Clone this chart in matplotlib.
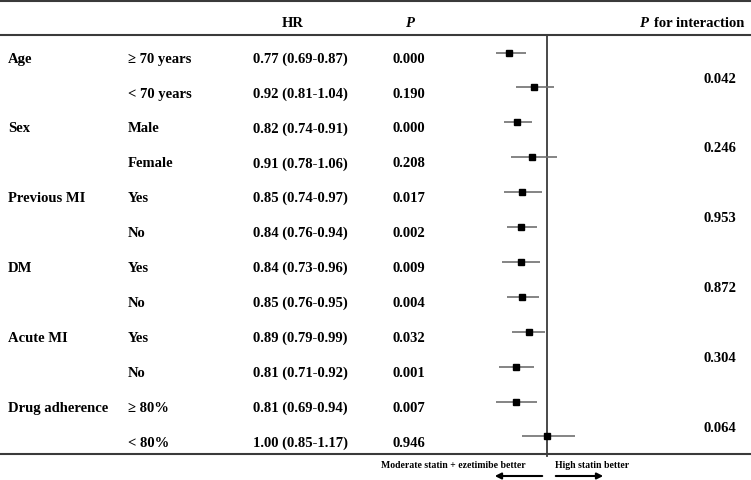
import matplotlib
matplotlib.use("Agg")
import matplotlib.pyplot as plt

groups = ["Age", "", "Sex", "", "Previous MI", "", "DM", "", "Acute MI", "", "Drug adherence", ""]
subgroups = ["\u2265 70 years", "< 70 years", "Male", "Female", "Yes", "No", "Yes", "No",
             "Yes", "No", "\u2265 80%", "< 80%"]
hr = [0.77, 0.92, 0.82, 0.91, 0.85, 0.84, 0.84, 0.85, 0.89, 0.81, 0.81, 1.00]
lo = [0.69, 0.81, 0.74, 0.78, 0.74, 0.76, 0.73, 0.76, 0.79, 0.71, 0.69, 0.85]
hi = [0.87, 1.04, 0.91, 1.06, 0.97, 0.94, 0.96, 0.95, 0.99, 0.92, 0.94, 1.17]
pvals = ["0.000", "0.190", "0.000", "0.208", "0.017", "0.002", "0.009", "0.004",
         "0.032", "0.001", "0.007", "0.946"]
p_inter = ["0.042", "0.246", "0.953", "0.872", "0.304", "0.064"]

W, H = 751, 481
plt.rcParams['font.family'] = ['Liberation Serif', 'DejaVu Serif']
fig = plt.figure(figsize=(W / 100, H / 100), dpi=100)
ax = fig.add_axes([0, 0, 1, 1])
ax.set_xlim(0, W)
ax.set_ylim(H, 0)
ax.axis('off')

fs = 10.5
line_c = '#3a3a3a'
# horizontal rules
for yy in (2, 36, 455):
    ax.plot([0, W], [yy, yy], color=line_c, lw=1.5, solid_capstyle='butt')

# header
hb = 27
ax.text(293, hb, "HR", ha='center', va='baseline', fontsize=fs, fontweight='bold')
ax.text(409, hb, "P", ha='center', va='baseline', fontsize=fs, fontweight='bold', style='italic')
ax.text(639, hb, "P", ha='left', va='baseline', fontsize=fs, fontweight='bold', style='italic')
ax.text(654, hb, "for interaction", ha='left', va='baseline', fontsize=fs, fontweight='bold')

base0 = 62.7
step = 34.9
for i in range(len(hr)):
    b = base0 + i * step
    if groups[i]:
        ax.text(8, b, groups[i], ha='left', va='baseline', fontsize=fs, fontweight='bold')
    ax.text(128, b, subgroups[i], ha='left', va='baseline', fontsize=fs, fontweight='bold')
    ax.text(253, b, f"{hr[i]:.2f} ({lo[i]:.2f}-{hi[i]:.2f})", ha='left', va='baseline',
            fontsize=fs, fontweight='bold')
    ax.text(409, b, pvals[i], ha='center', va='baseline', fontsize=fs, fontweight='bold')

for j, pv in enumerate(p_inter):
    b = base0 + (2 * j + 0.5) * step + 2.5
    ax.text(720, b, pv, ha='center', va='baseline', fontsize=fs, fontweight='bold')

# forest axes
px0, px1, x_ref, scale = 470, 630, 547, 165.0
fax = fig.add_axes([px0 / W, 0, (px1 - px0) / W, 1])
fax.set_xlim(1 - (x_ref - px0) / scale, 1 + (px1 - x_ref) / scale)
fax.set_ylim(H, 0)
fax.axis('off')
fax.patch.set_alpha(0)
fax.plot([1, 1], [36, 457], color=line_c, lw=1.3)
ys = [base0 + i * step - 9.2 for i in range(len(hr))]
fax.hlines(ys, lo, hi, color='#707070', lw=1.2)
fax.plot(hr, ys, 's', color='black', markersize=5, linestyle='none')

# bottom annotations
sfs = 7
ax.text(453, 468, "Moderate statin + ezetimibe better", ha='center', va='baseline',
        fontsize=sfs, fontweight='bold')
ax.text(592, 468, "High statin better", ha='center', va='baseline',
        fontsize=sfs, fontweight='bold')
ax.annotate("", xy=(492, 477), xytext=(545, 477),
            arrowprops=dict(arrowstyle='-|>', color='black', lw=1.5, mutation_scale=9))
ax.annotate("", xy=(606, 477), xytext=(553, 477),
            arrowprops=dict(arrowstyle='-|>', color='black', lw=1.5, mutation_scale=9))

fig.savefig("out.png", dpi=100)
